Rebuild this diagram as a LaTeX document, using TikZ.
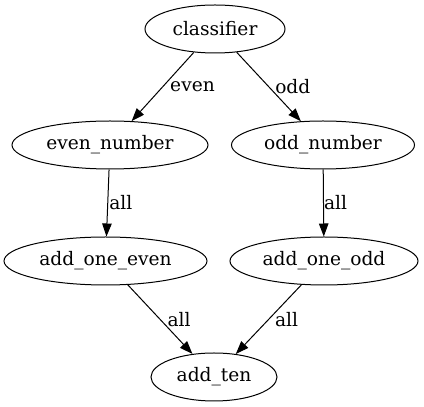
\documentclass[tikz,border=0pt]{standalone}
\usepackage{fontspec}
\setmainfont{DejaVu Serif}
\usetikzlibrary{shapes.geometric,arrows.meta}
\tikzset{
    state-node/.style = {draw, ellipse, inner sep=0pt, line width=1pt, minimum height=48pt, font=\fontsize{18.6}{20}\selectfont},
    flow-edge/.style = {-{Triangle[length=13pt,width=9.5pt]}, line width=1pt},
    flow-label/.style = {inner sep=0pt, font=\fontsize{18.6}{20}\selectfont},
}
\begin{document}
\begin{tikzpicture}[x=1pt,y=1pt]
\useasboundingbox (0,0) rectangle (424,407);
% states
\node [state-node, minimum width=140pt] (classifier) at (215,378) {classifier};
\node [state-node, minimum width=196pt] (even) at (110,262) {even\_number};
\node [state-node, minimum width=183pt] (odd) at (323,262) {odd\_number};
\node [state-node, minimum width=203pt] (addeven) at (105.5,146) {add\_one\_even};
\node [state-node, minimum width=188pt] (addodd) at (324,146) {add\_one\_odd};
\node [state-node, minimum width=126pt] (addten) at (214,30) {add\_ten};
% transitions
\draw [flow-edge] (classifier) -- node[flow-label, right=7pt] {even} (even);
\draw [flow-edge] (classifier) -- node[flow-label, right=6pt] {odd} (odd);
\draw [flow-edge] (even) -- node[flow-label, right=1pt] {all} (addeven);
\draw [flow-edge] (odd) -- node[flow-label, right=0pt] {all} (addodd);
\draw [flow-edge] (addeven) -- node[flow-label, right=7pt] {all} (addten);
\draw [flow-edge] (addodd) -- node[flow-label, right=6pt] {all} (addten);
\end{tikzpicture}
\end{document}
